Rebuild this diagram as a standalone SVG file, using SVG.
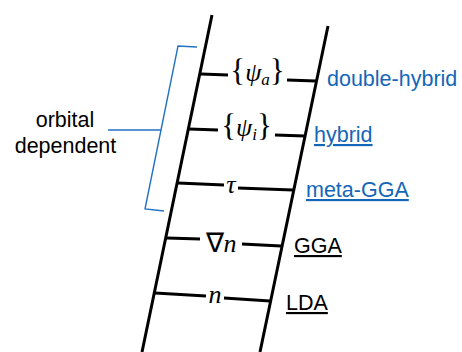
<svg xmlns="http://www.w3.org/2000/svg" width="462" height="352" viewBox="0 0 462 352">
<style>
.rail{stroke:#000;stroke-width:3;fill:none;stroke-linecap:butt}
.rung{stroke:#000;stroke-width:3;fill:none}
.br{stroke:#2272c3;stroke-width:1.4;fill:none}
.lbl{font-family:"Liberation Sans",Arial,sans-serif;font-size:21.5px}
.blue{fill:#1467b8}
.k{fill:#000}
.u{text-decoration:underline}
.m{font-family:"Liberation Serif","Times New Roman",serif;font-size:26px;fill:#000;text-anchor:middle}
.i{font-style:italic}
.up{font-style:normal;font-size:31px}
</style>
<rect width="462" height="352" fill="#fff"/>
<g id="rails">
<line class="rail" x1="212" y1="15" x2="142" y2="352"/>
<line class="rail" x1="328" y1="26" x2="260" y2="352"/>
</g>
<g id="connectors">
<path class="rung" d="M201 74 L228 75 M287 80 L316 81"/>
<path class="rung" d="M189 129 L218 130 M275 135 L305 136"/>
<path class="rung" d="M178 183 L224 185 M238 188 L293 190"/>
<path class="rung" d="M167 238 L200 239 M242 244 L281 246"/>
<path class="rung" d="M155 293 L206 296 M224 298 L270 301"/>
</g>
<g id="rung-psi-a"><text class="m" x="257.5" y="81"><tspan class="up">{</tspan><tspan class="i">ψ</tspan><tspan class="i" font-size="17" dy="4">a</tspan><tspan class="up" dy="-4">}</tspan></text></g>
<g id="rung-psi-i"><text class="m" x="246.5" y="136"><tspan class="up">{</tspan><tspan class="i">ψ</tspan><tspan class="i" font-size="17" dy="4">i</tspan><tspan class="up" dy="-4">}</tspan></text></g>
<g id="rung-tau"><text class="m i" x="231" y="193">τ</text></g>
<g id="rung-grad"><text class="m" x="221" y="252"><tspan font-size="27">∇</tspan><tspan class="i">n</tspan></text></g>
<g id="rung-n"><text class="m i" x="215" y="303">n</text></g>
<g id="double-hybrid"><text class="lbl blue" x="327" y="86">double-hybrid</text></g>
<g id="hybrid"><text class="lbl blue u" x="314" y="142">hybrid</text></g>
<g id="meta-GGA"><text class="lbl blue u" x="306" y="197">meta-GGA</text></g>
<g id="GGA"><text class="lbl k u" x="294" y="253">GGA</text></g>
<g id="LDA"><text class="lbl k u" x="286" y="310">LDA</text></g>
<g id="orbital-dependent">
<path class="br" d="M197 47 L178 46 L145 209 L164 211 M108 130 L161 130"/>
<text class="lbl k" x="65" y="127" text-anchor="middle">orbital</text>
<text class="lbl k" x="65.5" y="153" text-anchor="middle">dependent</text>
</g>
</svg>
